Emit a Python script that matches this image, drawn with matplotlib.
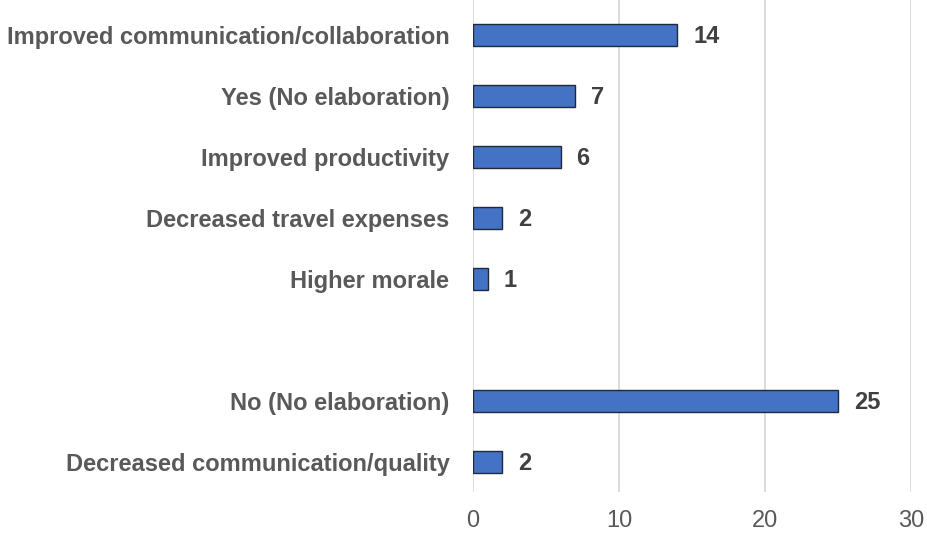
import matplotlib
matplotlib.use("Agg")
import matplotlib.pyplot as plt

categories = [
    "Improved communication/collaboration",
    "Yes (No elaboration)",
    "Improved productivity",
    "Decreased travel expenses",
    "Higher morale",
    "",
    "No (No elaboration)",
    "Decreased communication/quality",
]
values = [14, 7, 6, 2, 1, None, 25, 2]
x_ticks = [0, 10, 20, 30]

W, H, DPI = 927, 534, 100
fig = plt.figure(figsize=(W / DPI, H / DPI), dpi=DPI)
fig.patch.set_facecolor("white")

left, right, top, bottom = 473, 911, 0, 492
ax = fig.add_axes([left / W, 1 - bottom / H, (right - left) / W, (bottom - top) / H])

plt.rcParams["font.family"] = ["Liberation Sans", "DejaVu Sans"]

pos = list(range(len(categories)))
bar_pos = [p for p, v in zip(pos, values) if v is not None]
bar_vals = [v for v in values if v is not None]
ax.barh(bar_pos, bar_vals, height=0.36, color="#4472C4",
        edgecolor="#1f2a3c", linewidth=1.0, zorder=3)

for p, v in zip(bar_pos, bar_vals):
    ax.annotate(str(v), xy=(v, p), xytext=(16, -1), textcoords="offset pixels",
                ha="left", va="center", fontsize=17, fontweight="bold",
                color="#404040", family="Liberation Sans")

ax.set_xlim(0, 30)
ax.set_ylim(7.49, -0.574)
ax.set_xticks(x_ticks)
ax.set_xticklabels([str(t) for t in x_ticks], fontsize=17, color="#595959",
                   family="Liberation Sans")
ax.set_yticks(pos)
ax.set_yticklabels(categories, fontsize=17, fontweight="bold", color="#595959",
                   family="Liberation Sans")
ax.tick_params(axis="y", length=0, pad=17)
ax.tick_params(axis="x", length=0, pad=13)

ax.grid(axis="x", color="#d9d9d9", linewidth=1.3, zorder=0)
for s in ax.spines.values():
    s.set_visible(False)

fig.savefig("out.png", dpi=DPI, facecolor="white")
